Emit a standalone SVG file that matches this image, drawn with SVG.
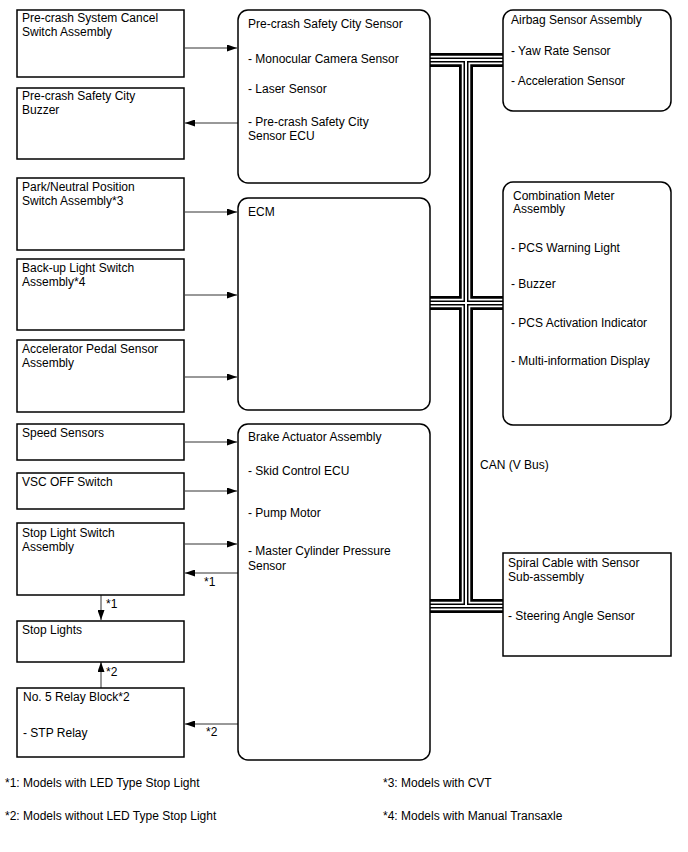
<svg xmlns="http://www.w3.org/2000/svg" width="688" height="852" viewBox="0 0 688 852">
<style>
text{font-family:"Liberation Sans",Arial,sans-serif;font-size:12px;fill:#000}
.box{fill:#fff;stroke:#000;stroke-width:1.5}
.conn{stroke:#333;stroke-width:1;fill:none}
.bus{fill:none;stroke-linecap:butt;stroke-linejoin:miter}
</style>
<defs>
<marker id="ah" markerUnits="userSpaceOnUse" markerWidth="10" markerHeight="7" refX="10" refY="3.5" orient="auto">
<path d="M0,0 L10,3.5 L0,7 z" fill="#000"/>
</marker>
</defs>
<g id="connectors">
<g id="can-bus" class="bus">
<path d="M430,60 H503 M466,60 V606 M430,303 H503 M430,606 H503" stroke="#000" stroke-width="14"/>
<path d="M430,60 H503 M466,60 V606 M430,303 H503 M430,606 H503" stroke="#fff" stroke-width="8.5"/>
<path d="M430,60 H503 M466,60 V606 M430,303 H503 M430,606 H503" stroke="#000" stroke-width="5"/>
<path d="M430,60 H503 M466,60 V606 M430,303 H503 M430,606 H503" stroke="#fff" stroke-width="2"/>
</g>
<path class="conn" d="M185,48 H237" marker-end="url(#ah)"/>
<path class="conn" d="M238,123 H185" marker-end="url(#ah)"/>
<path class="conn" d="M185,212 H237" marker-end="url(#ah)"/>
<path class="conn" d="M185,295 H237" marker-end="url(#ah)"/>
<path class="conn" d="M185,377 H237" marker-end="url(#ah)"/>
<path class="conn" d="M185,442 H237" marker-end="url(#ah)"/>
<path class="conn" d="M185,491 H237" marker-end="url(#ah)"/>
<path class="conn" d="M185,544 H237" marker-end="url(#ah)"/>
<path class="conn" d="M238,573 H185" marker-end="url(#ah)"/>
<path class="conn" d="M238,724 H185" marker-end="url(#ah)"/>
<path class="conn" d="M101,595 V620" marker-end="url(#ah)"/>
<path class="conn" d="M101,688 V662" marker-end="url(#ah)"/>
<text x="204" y="586">*1</text>
<text x="206" y="736">*2</text>
<text x="106" y="608">*1</text>
<text x="106" y="676">*2</text>
<text x="480" y="469">CAN (V Bus)</text>
</g>
<g id="n-cancel-switch">
<rect class="box" x="17" y="10" width="167" height="67"/>
<text x="22" y="22">Pre-crash System Cancel</text>
<text x="22" y="36">Switch Assembly</text>
</g>
<g id="n-buzzer">
<rect class="box" x="17" y="88" width="167" height="71"/>
<text x="22" y="100">Pre-crash Safety City</text>
<text x="22" y="114">Buzzer</text>
</g>
<g id="n-park-neutral">
<rect class="box" x="17" y="178" width="167" height="72"/>
<text x="22" y="191">Park/Neutral Position</text>
<text x="22" y="205">Switch Assembly*3</text>
</g>
<g id="n-backup">
<rect class="box" x="17" y="259" width="167" height="71"/>
<text x="22" y="272">Back-up Light Switch</text>
<text x="22" y="286">Assembly*4</text>
</g>
<g id="n-accel">
<rect class="box" x="17" y="340" width="167" height="72"/>
<text x="22" y="353">Accelerator Pedal Sensor</text>
<text x="22" y="367">Assembly</text>
</g>
<g id="n-speed">
<rect class="box" x="17" y="424" width="167" height="36"/>
<text x="22" y="437">Speed Sensors</text>
</g>
<g id="n-vsc">
<rect class="box" x="17" y="473" width="167" height="36"/>
<text x="22" y="486">VSC OFF Switch</text>
</g>
<g id="n-stop-switch">
<rect class="box" x="17" y="523" width="167" height="72"/>
<text x="22" y="537">Stop Light Switch</text>
<text x="22" y="551">Assembly</text>
</g>
<g id="n-stop-lights">
<rect class="box" x="17" y="621" width="167" height="41"/>
<text x="22" y="634">Stop Lights</text>
</g>
<g id="n-relay">
<rect class="box" x="17" y="688" width="167" height="69"/>
<text x="23" y="701">No. 5 Relay Block*2</text>
<text x="23" y="737">- STP Relay</text>
</g>
<g id="n-pcs-sensor">
<rect class="box" x="238" y="10" width="192" height="173" rx="10"/>
<text x="248" y="28">Pre-crash Safety City Sensor</text>
<text x="248" y="63">- Monocular Camera Sensor</text>
<text x="248" y="93">- Laser Sensor</text>
<text x="248" y="126">- Pre-crash Safety City</text>
<text x="248" y="140">Sensor ECU</text>
</g>
<g id="n-ecm">
<rect class="box" x="238" y="198" width="192" height="212" rx="10"/>
<text x="248" y="216">ECM</text>
</g>
<g id="n-brake">
<rect class="box" x="238" y="424" width="192" height="336" rx="10"/>
<text x="248" y="441">Brake Actuator Assembly</text>
<text x="248" y="475">- Skid Control ECU</text>
<text x="248" y="517">- Pump Motor</text>
<text x="248" y="555">- Master Cylinder Pressure</text>
<text x="248" y="570">Sensor</text>
</g>
<g id="n-airbag">
<rect class="box" x="503" y="10" width="168" height="101" rx="10"/>
<text x="511" y="24">Airbag Sensor Assembly</text>
<text x="511" y="55">- Yaw Rate Sensor</text>
<text x="511" y="85">- Acceleration Sensor</text>
</g>
<g id="n-meter">
<rect class="box" x="503" y="182" width="168" height="243" rx="10"/>
<text x="513" y="200">Combination Meter</text>
<text x="513" y="213">Assembly</text>
<text x="511" y="252">- PCS Warning Light</text>
<text x="511" y="288">- Buzzer</text>
<text x="511" y="327">- PCS Activation Indicator</text>
<text x="511" y="365">- Multi-information Display</text>
</g>
<g id="n-spiral">
<rect class="box" x="503" y="553" width="168" height="103"/>
<text x="508" y="567">Spiral Cable with Sensor</text>
<text x="508" y="581">Sub-assembly</text>
<text x="508" y="620">- Steering Angle Sensor</text>
</g>
<g id="footnotes">
<text x="5" y="787">*1: Models with LED Type Stop Light</text>
<text x="5" y="820">*2: Models without LED Type Stop Light</text>
<text x="383" y="787">*3: Models with CVT</text>
<text x="383" y="820">*4: Models with Manual Transaxle</text>
</g>
</svg>
